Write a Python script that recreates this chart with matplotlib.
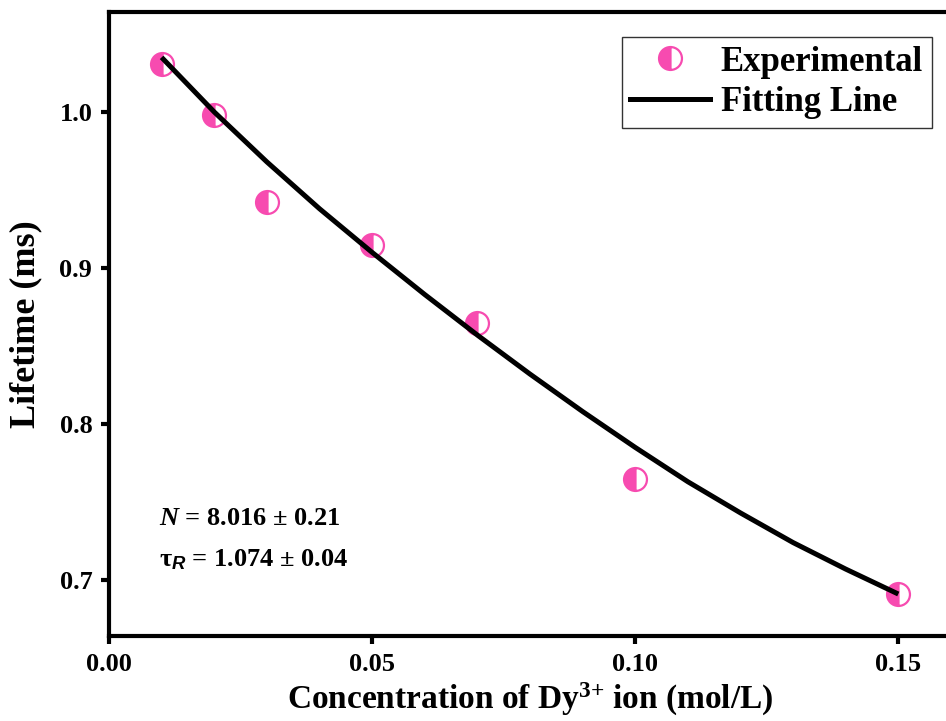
import matplotlib
matplotlib.use("Agg")
import matplotlib.pyplot as plt
from matplotlib.lines import Line2D

plt.rcParams['font.family'] = ['Liberation Serif', 'DejaVu Serif']
plt.rcParams['font.weight'] = 'bold'
plt.rcParams['mathtext.fontset'] = 'custom'
plt.rcParams['mathtext.rm'] = 'Liberation Serif:bold'
plt.rcParams['mathtext.bf'] = 'Liberation Serif:bold'
plt.rcParams['mathtext.it'] = 'Liberation Serif:italic:bold'
plt.rcParams['mathtext.sf'] = 'Liberation Sans:italic:bold'

# Experimental data
conc = [0.01, 0.02, 0.03, 0.05, 0.07, 0.10, 0.15]
lifetime = [1.031, 0.998, 0.942, 0.915, 0.865, 0.765, 0.691]

# Fitting line
fit_x = [0.010, 0.020, 0.030, 0.040, 0.050, 0.060, 0.070, 0.080, 0.090, 0.100, 0.110, 0.120, 0.130, 0.140, 0.150]
fit_y = [1.035, 1.000, 0.968, 0.938, 0.910, 0.883, 0.857, 0.832, 0.808, 0.785, 0.763, 0.743, 0.724, 0.707, 0.691]

xticks = [0.00, 0.05, 0.10, 0.15]
yticks = [0.7, 0.8, 0.9, 1.0]

pink = '#F74BB0'

fig = plt.figure(figsize=(9.46, 7.21), dpi=100)
ax = fig.add_axes([0.1152, 0.1179, 0.890, 0.8655])

ax.plot(fit_x, fit_y, color='black', lw=3.6, solid_capstyle='butt', zorder=3)
ax.plot(conc, lifetime, linestyle='none', marker='o', markersize=16.5,
        fillstyle='left', markerfacecolor=pink, markerfacecoloralt='white',
        markeredgecolor=pink, markeredgewidth=1.6, zorder=2)

ax.set_xlim(0.0, 0.16)
ax.set_ylim(0.6641, 1.0641)
ax.set_xticks(xticks)
ax.set_xticklabels([f'{t:.2f}' for t in xticks])
ax.set_yticks(yticks)
ax.set_yticklabels([f'{t:.1f}' for t in yticks])

for s in ['left', 'bottom', 'top']:
    ax.spines[s].set_linewidth(3)
ax.spines['right'].set_visible(False)
ax.tick_params(axis='both', direction='out', length=6, width=3, labelsize=19, pad=6)
ax.tick_params(axis='x', top=False)

ax.set_xlabel('Concentration of Dy$^{3{+}}$ ion (mol/L)', fontsize=24, fontweight='bold', labelpad=4)
ax.set_ylabel('Lifetime (ms)', fontsize=26, fontweight='bold', labelpad=12)

ax.text(0.060, 0.189, '$N$ = 8.016 ± 0.21', transform=ax.transAxes, fontsize=19,
        fontweight='bold', va='center', ha='left')
ax.text(0.060, 0.122, 'τ$_{\\mathsf{R}}$ = 1.074 ± 0.04', transform=ax.transAxes, fontsize=19,
        fontweight='bold', va='center', ha='left')

handles = [
    Line2D([], [], linestyle='none', marker='o', markersize=16.5, fillstyle='left',
           markerfacecolor=pink, markerfacecoloralt='white', markeredgecolor=pink,
           markeredgewidth=1.6),
    Line2D([], [], color='black', lw=3.6),
]
leg = ax.legend(handles, ['Experimental', 'Fitting Line'], loc='upper right',
                bbox_to_anchor=(0.977, 0.960), borderaxespad=0, fancybox=False,
                edgecolor='#333333', framealpha=1, handlelength=2.3, handletextpad=0.3,
                labelspacing=0.22, borderpad=0.25, prop={'size': 25, 'weight': 'bold'})
leg.get_frame().set_linewidth(1.0)

fig.savefig('out.png', dpi=100)
